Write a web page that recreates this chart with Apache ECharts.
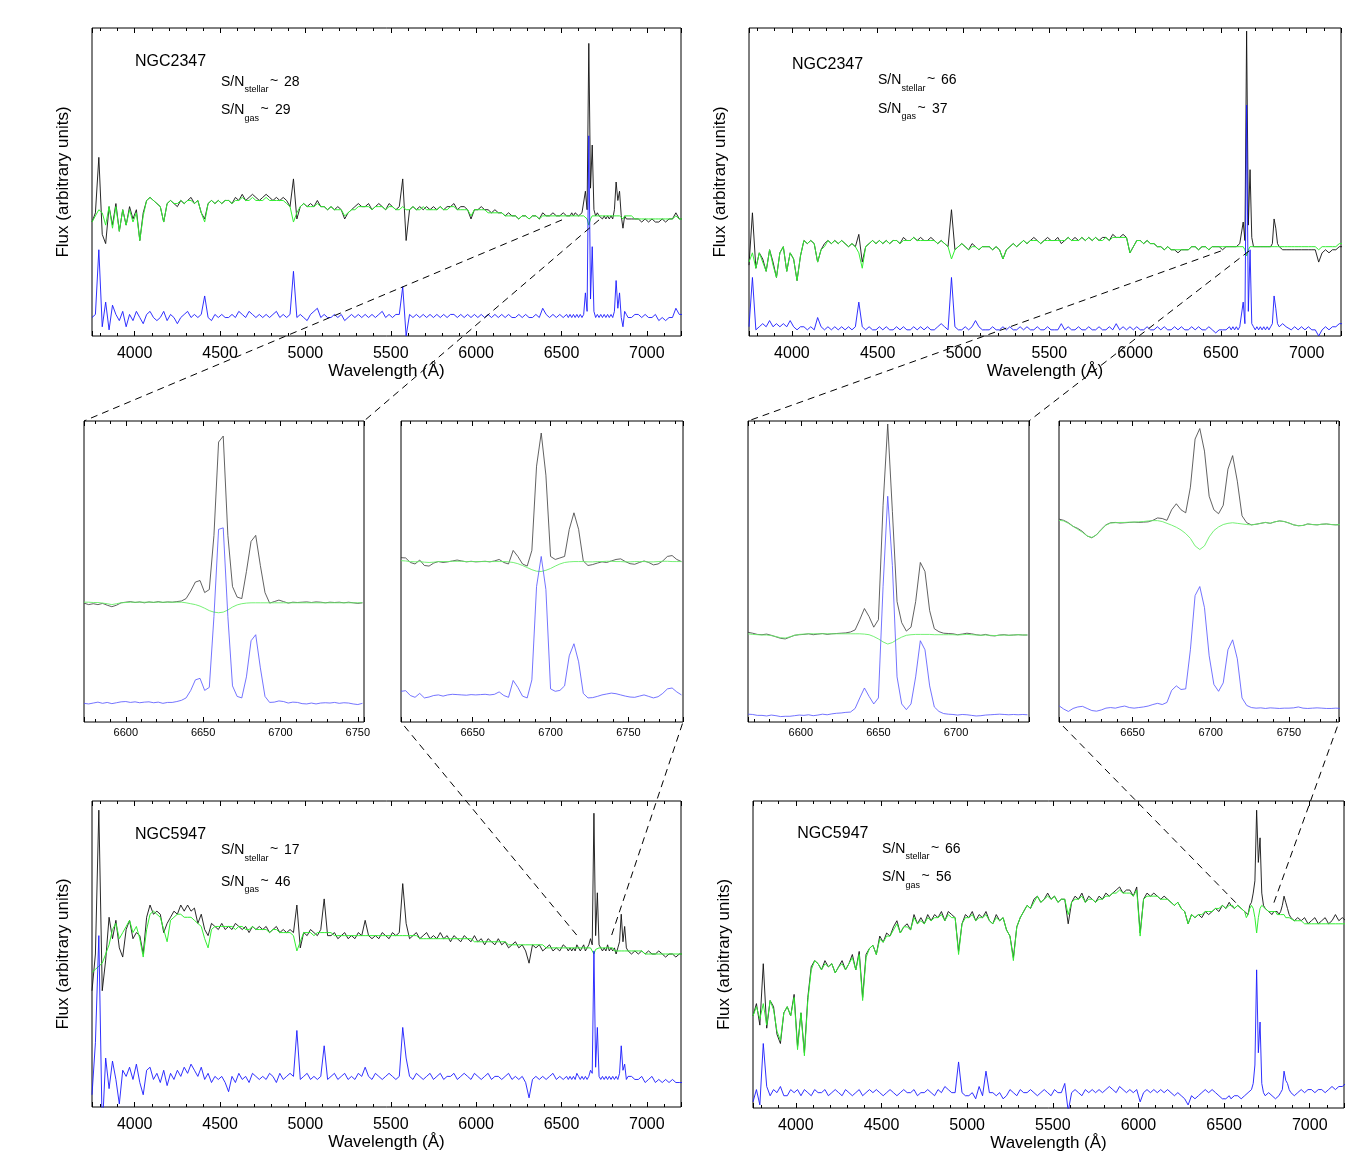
<!DOCTYPE html>
<html><head><meta charset="utf-8">
<script src="https://cdn.jsdelivr.net/npm/echarts@6/dist/echarts.min.js"></script>
<style>html,body{margin:0;padding:0;background:#fff}#c{width:1371px;height:1167px}</style>
</head><body><div id="c"></div>
<script>
const FONT = '"Liberation Sans", Arial, Helvetica, sans-serif';

// ---------- wavelength grids (Å) ----------
// 20 Å sampling, refined to 10 Å around H-alpha / [NII] / [SII]
const waveBig = [].concat(
  Array.from({length: 140}, (_, i) => 3750 + 20 * i),
  Array.from({length: 36}, (_, i) => 6540 + 10 * i),
  Array.from({length: 16}, (_, i) => 6910 + 20 * i)
);
const waveZ1 = Array.from({length: 61}, (_, i) => 6573 + 3 * i);
const waveZ2 = Array.from({length: 61}, (_, i) => 6604 + 3 * i);
const waveZ3 = Array.from({length: 61}, (_, i) => 6566 + 3 * i);
const waveZ4 = Array.from({length: 61}, (_, i) => 6603 + 3 * i);

// ---------- NGC2347 (top left) ----------
const tlBlack = [37,40,58,33,30,42,36,43,34,41, 36,42,38,41,31,40,44,45,44,43, 42,37,43,44,43,42,44,43,44,45,
 43,44,40,38,43,44,43,44,43,44, 44,43,45,44,46,44,45,46,45,44, 45,46,45,44,45,44,45,44,42,51,
 38,42,43,42,43,42,44,42,42,41, 42,41,42,41,38,40,41,42,43,42, 42,43,41,42,43,42,41,43,42,41,
 42,51,31,41,42,41,42,41,42,41, 42,41,42,41,42,42,43,41,42,42, 41,38,41,41,42,41,41,40,41,40,
 40,39,40,39,39,38,39,39,38,39, 39,38,40,39,39,40,39,39,40,39,
 39,39,40,39,40,40,39,39,40,40, 47,41,95,48,62,41,39,40,39,39, 38,39,38,39,38,39,38,41,50,44, 47,39,35,39,38,38,
 38,38, 38,37,38,37,38,37,37,38,37,38, 38,40,38,38];
const tlGreen = [37,39,41,40,36,42,35,42,34,41, 36,41,37,40,31,39,44,45,44,43, 42,37,43,44,43,43,44,43,44,44,
 43,44,40,37,43,44,43,44,43,44, 44,43,44,44,45,44,44,45,44,44, 44,45,44,44,44,44,44,43,42,37,
 40,42,43,42,42,42,43,42,42,41, 42,41,41,41,39,40,41,41,42,42, 42,42,41,42,42,42,41,42,42,41,
 41,42,41,41,42,41,41,42,41,41, 41,41,42,41,41,42,42,41,41,41, 41,39,41,41,41,41,40,40,40,40,
 40,39,39,39,39,38,39,39,38,39, 39,38,39,39,39,39,39,39,39,39,
 39,39,39,39,39,39,39,39,39,39, 39,38,36,38,39,39,39,39,39,39, 39,39,39,39,39,39,39,39,39,39, 39,39,38,39,39,39,
 39,38, 38,38,38,38,38,38,38,38,38,38, 38,39,38,38];
const tlBlue = [6,7,28,3,11,2,10,7,5,8, 3,7,5,8,6,4,7,8,6,5, 6,8,5,7,6,4,6,7,8,6,
 7,6,7,13,6,5,7,6,7,6, 6,7,6,8,7,6,8,7,6,7, 6,7,6,7,8,6,7,6,7,21,
 6,7,6,5,7,8,9,6,7,6, 6,7,6,7,5,6,7,6,7,6, 7,6,7,6,7,8,6,7,6,7,
 7,16,0,7,6,7,6,7,6,7, 6,7,6,7,6,7,7,6,7,6, 7,6,7,6,7,6,7,6,7,6,
 7,6,7,6,6,7,6,7,6,6, 7,6,9,7,6,7,6,7,6,7,
 6,7,6,7,6,7,6,7,6,7, 14,8,65,12,29,8,6,7,6,7, 6,7,6,7,6,7,6,8,18,9, 14,6,3,8,7,6,
 6,7, 7,6,7,6,6,7,5,6,5,6, 6,9,7,7];

// ---------- NGC2347 (top right) ----------
const trBlack = [23,40,22,27,25,21,28,24,19,27, 29,21,27,25,18,26,31,30,31,30, 24,28,30,31,30,31,30,31,30,29,
 30,29,33,24,29,30,31,30,31,30, 31,30,31,31,30,32,31,31,32,31, 32,31,31,32,31,30,31,30,29,41,
 28,29,30,29,28,30,29,28,29,29, 29,28,29,28,25,28,29,30,29,30, 31,30,31,32,31,30,31,32,31,31,
 32,30,31,32,31,32,31,32,31,32, 31,32,31,32,32,31,33,32,32,33, 32,27,29,31,31,30,31,30,30,29,
 29,28,29,28,28,27,28,28,28,29, 29,28,29,29,28,29,29,29,28,29,
 29,29,29,29,29,29,29,30,30,37, 31,99,36,54,32,29,29,29,29,29, 29,29,29,29,29,29,30,38,35,30, 29,29,28,28,28,28,
 28,28, 28,28,28,28,28,28,24,27,28,27, 28,28,29,29];
const trGreen = [24,27,22,27,24,21,28,23,19,27, 29,21,27,25,18,26,31,30,31,30, 24,28,29,31,30,31,30,31,30,29,
 30,29,27,22,29,30,31,30,31,30, 31,30,31,31,30,31,31,31,32,31, 31,31,31,31,31,30,31,30,29,25,
 28,29,30,29,28,29,29,28,29,29, 29,28,29,28,25,28,29,30,29,30, 31,30,31,31,31,30,31,31,31,31,
 31,31,31,32,31,31,31,32,31,32, 31,32,31,31,32,31,32,32,32,32, 32,27,29,31,31,30,31,30,30,29,
 29,28,29,28,28,28,28,28,28,29, 29,28,29,29,28,29,29,29,29,29,
 29,29,29,29,29,29,29,29,29,29, 28,26,28,29,29,29,29,29,29,29, 29,29,29,29,29,29,29,29,29,29, 29,29,29,29,29,29,
 29,29, 29,29,29,29,29,29,28,29,29,29, 29,29,30,30];
const trBlue = [3,19,2,3,4,3,5,3,4,3, 4,3,5,3,2,3,3,2,3,2, 6,3,2,3,2,3,2,3,2,3,
 2,3,11,3,2,3,2,2,3,2, 3,2,2,3,2,3,2,2,3,2, 3,2,3,2,2,3,4,3,2,19,
 3,2,2,3,2,3,5,3,2,2, 2,3,2,2,3,2,3,2,2,3, 2,3,2,2,3,2,2,3,2,2,
 2,4,2,3,2,2,3,2,2,3, 2,2,3,2,2,3,2,4,2,3, 2,3,2,3,2,2,3,2,2,3,
 2,3,2,2,3,2,3,2,2,3, 2,3,2,2,3,2,1,2,2,2,
 2,3,2,3,2,3,2,3,3,11, 4,75,8,28,4,3,2,3,2,3, 2,3,2,3,2,3,4,13,9,4, 3,3,4,4,3,3,
 2,3, 2,3,2,3,2,2,0,2,3,2, 3,3,4,4];

// ---------- NGC5947 (bottom left) ----------
const blBlack = [38,50,97,38,48,62,55,61,52,49, 58,61,55,57,56,50,62,66,63,64, 63,57,60,62,64,63,66,64,66,64,
 65,60,63,58,56,60,59,58,60,58, 59,58,60,59,58,59,57,59,58,59, 58,59,57,58,59,57,58,57,58,57,
 66,52,57,56,58,57,56,58,68,56, 56,57,55,56,57,55,56,55,57,56, 61,56,55,56,55,57,56,55,57,56,
 57,73,60,55,56,57,55,56,57,55, 56,55,57,55,56,54,56,55,54,56, 55,54,56,54,55,53,55,54,53,55,
 53,54,52,53,54,52,53,51,47,53, 52,53,51,52,53,51,52,51,53,52,
 51,52,51,52,51,53,52,51,52,53, 51,52,53,55,53,96,56,70,53,52, 51,52,51,53,51,52,51,52,50,52, 54,63,54,59,52,51,
 50,51, 50,51,50,51,50,50,51,50,49,50, 50,49,50,50];
const blGreen = [44,45,46,47,50,53,58,60,55,57, 59,61,57,59,55,49,58,63,64,63, 62,58,54,61,62,63,63,62,62,62,
 61,60,59,55,52,58,59,59,59,59, 59,59,58,59,59,58,58,59,58,58, 58,58,57,58,58,57,57,57,57,56,
 51,54,57,57,57,56,57,57,57,57, 57,56,56,56,56,56,56,56,56,56, 56,56,56,56,56,56,56,56,56,56,
 56,56,56,56,56,56,55,55,55,55, 55,55,55,55,55,55,55,55,55,55, 55,55,54,54,54,54,54,54,54,54,
 54,54,53,53,53,53,53,53,53,53, 53,53,53,52,52,52,52,52,52,52,
 52,52,52,52,52,52,52,52,52,52, 52,52,52,52,52,50,51.5,52,52,52, 52,52,52,52,52,52,52,51,51,51, 51,51,51,51,51,51,
 51,51, 51,51,50,50,50,50,50,50,50,50, 50,50,50,50];
const blBlue = [4,21,56,-8,16,6,15,9,1,12, 10,13,9,14,8,4,12,13,9,11, 8,12,7,11,9,12,10,13,11,14,
 12,10,13,9,11,8,10,9,10,8, 5,10,8,11,9,10,8,11,10,9, 10,9,11,10,8,11,9,10,11,10,
 25,9,10,11,9,10,9,10,20,9, 10,11,9,10,11,9,10,9,11,10, 13,10,9,11,10,9,10,11,10,9,
 10,26,16,10,9,11,10,9,10,11, 9,10,11,9,10,10,11,9,10,11, 10,9,11,10,9,10,11,9,10,10,
 9,10,11,9,10,9,10,8,3,9, 10,9,10,9,10,11,9,10,9,10,
 9,10,9,10,9,11,10,9,10,9, 10,9,10,12,11,51,13,26,10,9, 10,9,10,9,10,9,10,9,10,9, 11,20,12,14,9,10,
 10,9, 9,10,8,9,10,8,9,8,9,8, 9,8,8,8];

// ---------- NGC5947 (bottom right) ----------
const brBlack = [30,34,27,47,26,35,33,24,21,31, 33,30,37,20,31,18,36,46,48,47, 45,48,46,47,44,46,48,45,47,50,
 45,51,36,50,52,53,50,56,54,57, 56,59,61,57,59,60,58,63,60,62, 60,63,61,63,62,64,61,64,63,62,
 51,60,63,62,64,61,63,62,64,61, 60,63,61,62,58,56,49,59,62,64, 66,65,68,69,67,68,70,68,69,67,
 68,68,60,67,69,68,70,67,69,68, 67,69,68,70,69,70,71,72,70,71, 71,69,72,57,68,70,69,70,69,68,
 69,68,67,66,67,65,64,60,63,62, 63,62,64,63,64,65,64,66,65,67,
 66,66,65,65,66,66,65,65,64,64, 63,66,67,70,74,97,80,88,70,66, 65,65,64,64,63,64,64,64,63,64, 66,69,67,65,63,62,
 61,62, 61,62,60,61,62,60,61,62,60,61, 63,61,62,61];
const brGreen = [30,33,29,34,27,35,32,25,22,31, 33,30,36,19,31,17,35,45,48,47, 45,47,46,47,44,46,47,45,47,49,
 45,50,35,49,52,53,50,55,54,56, 56,58,60,57,59,59,58,62,60,61, 60,62,61,62,62,63,61,63,62,62,
 50,60,62,62,63,61,62,62,63,61, 60,62,61,62,58,56,48,59,62,64, 66,65,67,69,67,68,69,68,69,67,
 68,68,63,67,68,68,69,67,68,68, 67,68,68,69,69,70,70,71,70,70, 70,69,71,56,68,69,69,69,69,68,
 68,68,67,66,67,65,64,60,63,62, 63,63,64,64,64,65,65,66,65,66,
 66,66,65,65,66,66,65,65,64,62, 63,65,66,65,62,57,62,65,66,66, 65,65,64,64,64,64,64,63,63,63, 63,63,62,62,62,62,
 61,61, 61,60,60,60,60,60,60,60,60,60, 60,60,60,60];
const brBlue = [2,6,1,21,7,4,6,5,7,4, 4,6,5,6,4,6,5,4,6,5, 5,6,4,5,6,5,4,6,5,4,
 5,6,4,5,6,5,6,5,4,5, 6,5,4,5,6,5,5,6,4,5, 5,6,5,4,6,5,7,6,5,5,
 15,5,4,4,5,3,7,4,12,5, 5,4,5,3,4,6,5,4,6,5, 5,6,5,4,5,6,5,4,6,5,
 5,8,-1,5,6,5,4,6,5,6, 5,6,5,6,7,6,5,7,6,5, 6,5,6,2,5,6,5,6,5,6,
 5,6,5,4,5,4,3,1,4,3, 4,5,6,5,6,5,4,3,3,4,
 3,3,4,4,4,4,3,3,4,4, 5,5,6,8,14,45,18,28,8,5, 4,4,5,5,4,4,3,3,4,5, 6,12,9,8,6,5,
 4,5, 6,5,6,6,5,6,6,5,6,7, 6,7,7,8];

// ---------- zoom 1 (NGC2347, left) ----------
const z1Black = [39.5,39.0,39.3,39.0,39.4,38.8,38.3,38.8,39.6,39.8, 40.0,39.7,39.9,39.6,39.9,39.7,40.0,39.7,39.9,39.8,
 40.0,40.2,41.0,43.5,46.5,47.0,43.0,44.0,62.0,93.0, 95.0,62.0,45.0,41.5,41.0,50.0,60.0,62.0,52.0,43.0,
 39.5,40.0,40.5,40.0,39.5,39.8,39.7,39.8,39.9,39.7, 39.9,39.8,39.6,39.8,39.7,39.8,39.6,39.8,39.6,39.4,39.6];
const z1Green = [39.8,39.8,39.7,39.7,39.5,39.3,39.0,39.3,39.6,39.7, 39.8,39.8,39.8,39.8,39.8,39.8,39.8,39.8,39.8,39.8,
 39.8,39.8,39.6,39.3,39.0,38.5,37.8,37.0,36.5,36.3, 36.5,37.2,38.2,38.9,39.3,39.5,39.6,39.6,39.6,39.6,
 39.6,39.6,39.6,39.6,39.6,39.6,39.6,39.6,39.6,39.6, 39.6,39.6,39.6,39.6,39.6,39.6,39.6,39.6,39.6,39.6,39.6];
const z1Blue = [6.2,6.0,6.3,6.6,6.2,6.5,6.1,6.4,6.7,6.8, 6.5,6.7,6.4,6.6,6.7,6.4,6.6,6.2,6.5,6.5,
 6.8,7.2,8.0,10.5,14.0,14.5,10.5,11.5,35,64, 64.5,35,12,8.5,8.0,15,27,29,18,8.5,
 6.5,6.6,7.0,6.8,6.3,6.6,6.5,6.1,6.0,6.3, 6.0,6.3,6.4,6.3,6.5,6.2,6.4,6.3,6.0,5.8,6.2];

// ---------- zoom 2 (NGC5947, left) ----------
const z2Black = [54.6,54.5,53.0,52.5,53.8,52.0,51.8,52.8,53.3,53.0, 53.2,53.5,53.8,53.5,53.2,53.4,53.2,53.3,53.4,53.2,
 53.5,54.0,53.0,52.5,57.0,55.0,52.5,51.8,57.0,85.0, 96.0,82.0,55.0,54.0,54.5,55.0,64.0,69.5,64.0,53.5,
 52.0,52.3,52.8,53.2,53.0,53.5,54.0,54.2,53.3,52.6, 52.4,53.0,53.5,53.0,52.2,52.5,53.5,55.0,55.3,54.0,53.3];
const z2Green = [53.6,53.5,53.3,53.2,53.3,53.1,53.0,53.1,53.3,53.3, 53.3,53.4,53.4,53.4,53.3,53.3,53.3,53.3,53.3,53.3,
 53.3,53.3,53.3,53.2,53.0,52.6,52.0,51.3,50.6,50.1, 50.0,50.4,51.0,51.8,52.5,53.0,53.2,53.3,53.3,53.3,
 53.2,53.2,53.3,53.3,53.4,53.4,53.3,53.3,53.2,53.2, 53.3,53.3,53.3,53.2,53.2,53.3,53.4,53.4,53.3,53.3,53.3];
const z2Blue = [10.2,10.4,8.8,8.2,9.5,8.0,8.3,8.8,9.0,8.6, 9.0,9.2,9.1,9.0,8.9,9.1,9.0,9.1,9.2,9.0,
 9.2,10.0,8.8,8.2,13.8,11.5,8.6,8.0,14.0,45.0, 55.0,44.0,11.0,10.2,10.5,12.0,22.0,26.0,20.0,9.5,
 8.0,8.1,8.5,9.0,9.3,9.6,9.4,9.0,8.6,8.3, 8.2,8.6,9.0,8.5,8.0,8.4,9.5,11.0,11.3,10.0,9.0];

// ---------- zoom 3 (NGC2347, right) ----------
const z3Black = [29.8,29.5,29.1,29.0,29.2,28.8,28.3,27.8,27.6,28.2, 28.8,29.0,29.1,29.3,29.0,29.2,29.4,29.1,29.3,29.4,
 29.5,29.6,29.9,30.6,34.0,37.7,35.0,31.5,34.0,72.0, 99.0,70.0,40.0,33.0,30.2,31.5,40.0,53.0,50.0,37.0,
 31.0,30.0,29.5,29.4,29.3,29.0,29.2,29.5,29.3,29.0, 28.8,29.1,28.7,28.6,28.9,29.0,28.8,28.9,29.0,28.9,28.9];
const z3Green = [29.3,29.1,29.0,28.9,28.9,28.7,28.4,28.0,27.9,28.3, 28.8,29.1,29.2,29.3,29.3,29.3,29.3,29.3,29.3,29.3,
 29.3,29.3,29.3,29.3,29.3,29.2,29.0,28.4,27.6,26.6, 25.9,26.4,27.4,28.2,28.8,29.0,29.1,29.1,29.1,29.1,
 29.0,29.0,29.0,29.0,29.0,28.9,29.0,29.1,29.0,28.9, 28.8,28.9,28.8,28.7,28.8,28.9,28.8,28.9,29.0,28.9,28.9];
const z3Blue = [2.6,2.5,2.2,2.2,2.0,2.3,2.1,1.8,1.9,1.9, 2.1,2.3,2.2,2.4,2.1,2.3,2.6,2.4,2.7,2.9,
 3.0,3.2,3.3,4.5,8.0,11.3,8.5,6.0,8.0,45.0, 75.0,52.0,15.0,6.0,4.1,6.0,15.0,27.0,24.0,12.0,
 5.0,3.5,2.8,2.6,2.5,2.3,2.5,2.4,2.2,2.0, 2.1,2.3,2.4,2.5,2.6,2.5,2.4,2.5,2.4,2.5,2.4];

// ---------- zoom 4 (NGC5947, right) ----------
const z4Black = [67.4,67.0,66.2,65.0,64.3,63.3,61.8,61.2,62.2,64.0, 65.5,66.2,66.3,66.1,66.2,66.3,66.4,66.3,66.4,66.5,
 67.0,67.8,67.6,67.0,70.5,72.5,70.5,69.5,78.0,94.0, 97.5,90.0,75.0,70.5,69.2,72.0,84.0,88.5,80.0,68.5,
 66.2,65.5,65.7,66.0,66.3,66.0,66.5,66.8,66.6,66.1, 65.5,65.2,65.3,65.8,65.6,65.5,65.7,65.8,65.6,65.5,65.6];
const z4Green = [67.0,66.8,66.0,65.0,64.0,63.0,61.8,61.3,62.2,63.8, 65.4,66.1,66.2,66.3,66.3,66.4,66.4,66.5,66.6,66.8,
 66.9,66.9,66.6,66.0,65.4,64.7,63.8,62.6,61.0,58.5, 57.3,58.5,61.5,63.6,64.8,65.6,66.0,66.2,66.0,65.8,
 65.6,65.5,65.7,66.0,66.3,66.0,66.5,66.8,66.6,66.1, 65.5,65.2,65.3,65.8,65.6,65.5,65.7,65.8,65.6,65.5,65.6];
const z4Blue = [5.4,4.3,3.5,4.5,5.0,5.2,4.5,3.8,3.6,4.0, 4.6,4.8,4.6,5.0,5.3,4.8,4.6,4.8,5.0,5.3,
 5.8,6.2,5.8,6.5,10.5,12.0,10.8,11.0,24.0,42.0, 45.0,38.0,22.0,12.5,10.2,13.0,24.0,27.3,21.0,8.0,
 5.5,4.8,4.6,4.7,4.5,4.7,4.6,4.5,4.6,4.6, 4.7,5.0,4.6,4.5,4.6,4.7,4.6,4.5,4.5,4.6,4.5];

// ---------- annotation text ----------
const galaxyNames = ['NGC2347', 'NGC2347', 'NGC5947', 'NGC5947'];
const snStellar = ['28', '66', '17', '66'];
const snGas = ['29', '37', '46', '56'];

// axis ranges (Å) and major tick steps
const xRanges = [[3750,7200],[3750,7200],[3750,7200],[3750,7200],[6573,6754],[6604,6785],[6566,6747],[6603,6782]];
const tickSteps = [500,500,500,500,50,50,50,50];

// connectors: big panel points [wavelength, level] -> zoom panel edge
const connectors = [
  {from: 0, pts: [[6503, 37.7], [6720, 37.7]], to: 4, edge: 'top'},
  {from: 1, pts: [[6500, 27.6], [6664, 27.6]], to: 6, edge: 'top'},
  {from: 2, pts: [[6589, 56.2], [6794, 56.2]], to: 5, edge: 'bottom'},
  {from: 3, pts: [[6568, 66.9], [6791, 66.9]], to: 7, edge: 'bottom'}
];

// ---------- layout / style ----------
const layout = [
  {left: 92, top: 28, width: 589, height: 308},
  {left: 749, top: 28, width: 592, height: 308},
  {left: 92, top: 801, width: 589, height: 306},
  {left: 753, top: 801, width: 591, height: 307},
  {left: 84, top: 421, width: 280, height: 301},
  {left: 401, top: 421, width: 282, height: 301},
  {left: 748, top: 421, width: 281, height: 301},
  {left: 1059, top: 421, width: 280, height: 301}
];
const waves = [waveBig, waveBig, waveBig, waveBig, waveZ1, waveZ2, waveZ3, waveZ4];
const blacks = [tlBlack, trBlack, blBlack, brBlack, z1Black, z2Black, z3Black, z4Black];
const greens = [tlGreen, trGreen, blGreen, brGreen, z1Green, z2Green, z3Green, z4Green];
const blues = [tlBlue, trBlue, blBlue, brBlue, z1Blue, z2Blue, z3Blue, z4Blue];

const chart = echarts.init(document.getElementById('c'), null, {renderer: 'canvas'});
const grid = [], xAxis = [], yAxis = [], series = [];
const pairs = (w, v) => w.map((x, i) => [x, v[i]]);

for (let g = 0; g < 8; g++) {
  const big = g < 4;
  grid.push(Object.assign({show: true, borderColor: '#000', borderWidth: 1, backgroundColor: 'transparent', containLabel: false}, layout[g]));
  const step = tickSteps[g];
  const base = {
    type: 'value', gridIndex: g, min: xRanges[g][0], max: xRanges[g][1],
    minInterval: step, maxInterval: step, splitNumber: big ? 7 : 4,
    axisLine: {show: false}, splitLine: {show: false},
    axisTick: {show: true, inside: true, length: big ? 5 : 5, lineStyle: {color: '#000', width: 1}},
    minorTick: {show: true, splitNumber: 5, length: 3, lineStyle: {color: '#000', width: 1}}
  };
  xAxis.push(Object.assign({}, base, {
    position: 'bottom',
    axisLabel: {show: true, color: '#000', fontFamily: FONT, fontSize: big ? 16 : 11, margin: big ? 10 : 5,
      formatter: v => (Math.abs(v % step) < 1e-6 ? String(v) : '')},
    name: big ? 'Wavelength (Å)' : '', nameLocation: 'middle', nameGap: 24,
    nameTextStyle: {color: '#000', fontFamily: FONT, fontSize: 17}
  }));
  xAxis.push(Object.assign({}, base, {position: 'top', axisLabel: {show: false}}));
  yAxis.push({
    type: 'value', gridIndex: g, min: 0, max: 100, show: true,
    axisLine: {show: false}, axisTick: {show: false}, axisLabel: {show: false}, splitLine: {show: false},
    name: big ? 'Flux (arbitrary units)' : '', nameLocation: 'middle', nameGap: 20, nameRotate: 90,
    nameTextStyle: {color: '#000', fontFamily: FONT, fontSize: 17}
  });
  const cols = big ? ['#111111', '#33ee33', '#1a1aff'] : ['#3a3a3a', '#66ee66', '#5050ff'];
  const lw = big ? [0.9, 1, 0.9] : [0.8, 0.9, 0.8];
  [blacks[g], greens[g], blues[g]].forEach((vals, k) => {
    series.push({
      type: 'line', xAxisIndex: 2 * g, yAxisIndex: g, data: pairs(waves[g], vals),
      showSymbol: false, symbol: 'none', silent: true, animation: false, clip: true,
      lineStyle: {color: cols[k], width: lw[k]}, z: 2 + k
    });
  });
}

chart.setOption({animation: false, grid, xAxis, yAxis, series});

// ---------- annotations (dashed connectors + labels) ----------
const graphic = [];
connectors.forEach(c => {
  const zr = xRanges[c.to];
  const yv = c.edge === 'top' ? 100 : 0;
  const corners = [chart.convertToPixel({gridIndex: c.to}, [zr[0], yv]), chart.convertToPixel({gridIndex: c.to}, [zr[1], yv])];
  c.pts.forEach((p, i) => {
    const a = chart.convertToPixel({gridIndex: c.from}, p);
    graphic.push({type: 'line', silent: true, z: 100,
      shape: {x1: a[0], y1: a[1], x2: corners[i][0], y2: corners[i][1]},
      style: {stroke: '#000', lineWidth: 1, lineDash: [7, 5]}});
  });
});

const textY = [[33.5, 53.7, 61.5, 82.3, 90.5], [36.2, 52, 60.5, 80.7, 88.8], [33.2, 49.3, 57.5, 80.7, 88.5], [33, 47.7, 55.8, 76, 84.1]];
const nameX = [43, 43, 43, 44.3];
function txt(x, y, s, size) {
  graphic.push({type: 'text', silent: true, z: 100, x: x, y: y,
    style: {text: s, fill: '#000', font: size + 'px ' + FONT, align: 'left', verticalAlign: 'middle'}});
}
for (let p = 0; p < 4; p++) {
  const L = layout[p], ty = textY[p];
  txt(L.left + nameX[p], L.top + ty[0], galaxyNames[p], 16);
  txt(L.left + 129, L.top + ty[1], 'S/N', 14);
  txt(L.left + 152.5, L.top + ty[2], 'stellar', 9);
  txt(L.left + 178, L.top + ty[1] - 1, '~', 14);
  txt(L.left + 192, L.top + ty[1], snStellar[p], 14);
  txt(L.left + 129, L.top + ty[3], 'S/N', 14);
  txt(L.left + 152.5, L.top + ty[4], 'gas', 9);
  txt(L.left + 168.5, L.top + ty[3] - 1, '~', 14);
  txt(L.left + 183, L.top + ty[3], snGas[p], 14);
}
chart.setOption({graphic: graphic});
</script></body></html>
